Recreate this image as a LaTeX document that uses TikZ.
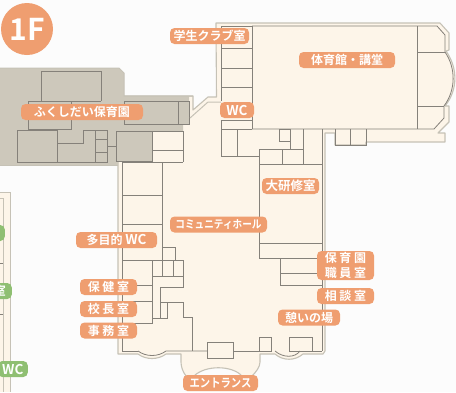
\documentclass[tikz,border=0pt]{standalone}
\usepackage{fontspec}
\setmainfont{Noto Sans CJK JP Bold}
\newfontfamily\narrowfont[FakeStretch=0.86]{Noto Sans CJK JP Bold}
\usepackage{
	xcolor
}
\definecolor{pagebg}{HTML}{FCFCFC}
\definecolor{floorcream}{HTML}{FDF5E9}
\definecolor{wallgray}{HTML}{C6C2B6}
\definecolor{roomline}{HTML}{85817A}
\definecolor{nurserybrown}{HTML}{CDC8BB}
\definecolor{labelorange}{HTML}{EF9E70}
\definecolor{labelgreen}{HTML}{8FBF72}
\newcommand{\bigwc}{{\fontsize{13.5}{13.5}\selectfont WC}}
\tikzset{
	outerwall/.style={draw=wallgray, line width=1.1pt, fill=floorcream, line join=round},
	roomwall/.style={draw=roomline, line width=0.8pt},
	softwall/.style={draw=wallgray, line width=1pt},
	roomlabel/.style={fill=labelorange, text=white, rounded corners=4.5pt, inner sep=0pt, font=\fontsize{12}{13}\selectfont, align=center, minimum height=16pt},
	sidelabel/.style={roomlabel, fill=labelgreen}
}

\begin{document}
\begin{tikzpicture}[x=1pt,y=-1pt]
	\useasboundingbox[fill=pagebg] (0,0) rectangle (456,392);
	% main building
	\draw[outerwall] (216,23) -- (440,23) -- (449,33) -- (449,50) -- (446,51)
		.. controls (458,68) and (458,90) .. (445,106) -- (449,106) -- (449,122) -- (438,133)
		-- (445,133) -- (445,142) -- (366,142) -- (366,145) -- (335,145) -- (335,133) -- (325,133)
		-- (325,351) -- (323,354) -- (303,354) .. controls (295,361) and (283,361) .. (275,354)
		-- (260,354) -- (260,362) .. controls (260,367) and (256,372) .. (252,376) -- (242,376)
		.. controls (232,365) and (205,365) .. (194,376)
		-- (186,376) .. controls (183,372) and (181,367) .. (181,362) -- (181,354)
		-- (166,354) .. controls (158,360) and (146,360) .. (138,354) -- (118,354) -- (118,96)
		-- (193,96) -- (193,110) -- (208,97) -- (216.5,97) -- cycle;
	% nursery block
	\fill[nurserybrown] (0,68) -- (119,68) -- (124,73) -- (124,96) -- (189,96) -- (189,124) -- (183,124)
		-- (183,131) -- (152,131) -- (152,161) -- (118,161) -- (118,165) -- (0,165) -- cycle;
	\draw[softwall] (0,68) -- (119,68) -- (124,73) -- (124,96) -- (193,96);
	\draw[softwall] (0,165) -- (118,165);
	\draw[roomwall] (41.5,101) -- (41.5,71.5) -- (101,71.5) -- (101,101);
	\draw[roomwall] (28,101) rectangle (71,129.5);
	\draw[roomwall] (71,101) -- (101,101);
	\draw[roomwall] (17,130) rectangle (57,162);
	\draw[roomwall] (57,143) -- (83,143) -- (83,130) -- (107,130) -- (107,162) -- (57,162);
	\draw[roomwall] (95,130) -- (95,162);
	\draw[roomwall] (95,139) -- (107,139);
	\draw[roomwall] (95,152) -- (107,152);
	\draw[roomwall] (107,146) -- (116,146);
	\draw[roomwall] (116,131) rectangle (152,161);
	\draw[roomwall] (124.5,101.5) rectangle (189,124);
	\draw[roomwall] (178.5,101.5) -- (178.5,124);
	\draw[roomwall] (152,131) -- (183,131) -- (183,162);
	\draw[roomwall] (152,150) -- (183,150);
	% inner walls, gym side
	\draw[roomwall] (221,101) -- (221,26) -- (252,26);
	\draw[softwall] (190,118) -- (208,102) -- (221,102);
	\draw[roomwall] (252,26) -- (437,26) -- (445,35) -- (445,52) .. controls (456,68) and (456,90) .. (444,106)
		-- (444,118) -- (434,129) -- (252,129);
	\draw[roomwall] (252,26) -- (252,129);
	\draw[roomwall] (417,26) -- (417,129);
	\draw[roomwall] (417,52) -- (445,52);
	\draw[roomwall] (417,106) -- (444,106);
	\draw[roomwall] (221,48) -- (252,48);
	\draw[roomwall] (221,68) -- (252,68);
	\draw[roomwall] (221,87) -- (252,87);
	\draw[roomwall] (221,120) -- (221,156) -- (259,156);
	\draw[roomwall] (221,120) -- (252,120);
	\draw[roomwall] (221,129) -- (252,129);
	\draw[roomwall] (237,129) -- (237,156);
	\draw[roomwall] (279,129) rectangle (290,141);
	\draw[roomwall] (290,129) -- (290,149);
	\draw[roomwall] (303,129) -- (303,164);
	\draw[roomwall] (259,149) -- (303,149);
	\draw[roomwall] (282,149) -- (282,164);
	\draw[roomwall] (259,164) -- (322,164);
	\draw[roomwall] (259,149) -- (259,258);
	\draw[roomwall] (322,129) -- (322,351);
	\draw[roomwall] (335,129) -- (335,145) -- (366,145) -- (366,129);
	\draw[roomwall] (350,129) -- (350,145);
	\draw[roomwall] (259,243) -- (322,243);
	\draw[roomwall] (259,258) -- (322,258);
	\draw[roomwall] (280,258) -- (280,285) -- (322,285);
	\draw[roomwall] (280,273) -- (322,273);
	% inner walls, hall side
	\draw[roomwall] (122,162) -- (122,351) -- (138,351);
	\draw[roomwall] (122,162) -- (183,162);
	\draw[roomwall] (122,195) -- (162,195);
	\draw[roomwall] (162,162) -- (162,276);
	\draw[roomwall] (122,224) -- (162,224);
	\draw[roomwall] (162,247) -- (175,247) -- (175,260);
	\draw[roomwall] (122,260) -- (183,260) -- (183,287) -- (160,287);
	\draw[roomwall] (152,276) -- (183,276);
	\draw[roomwall] (173,260) -- (173,276);
	\draw[roomwall] (152,260) -- (152,323) -- (122,323);
	\draw[roomwall] (122,285) -- (152,285);
	\draw[roomwall] (122,301) -- (152,301);
	\draw[roomwall] (160,287) -- (160,318);
	\draw[roomwall] (152,318) -- (167,318) -- (167,302);
	\draw[roomwall] (160,302) -- (183,302) -- (183,317) -- (192,317) -- (192,351);
	\draw[roomwall] (138,351) .. controls (146,357) and (158,357) .. (166,351) -- (207,351);
	\draw[roomwall] (207,342) rectangle (233,358);
	\draw[roomwall] (233,351) -- (271,351);
	\draw[roomwall] (259,337) rectangle (271,351);
	\draw[roomwall] (289,337) rectangle (312,351);
	\draw[roomwall] (312,351) -- (322,351);
	\draw[roomwall] (275,351) .. controls (283,358) and (295,358) .. (300,351);
	% next wing at the left edge
	\fill[floorcream] (0,192) rectangle (10.5,392);
	\draw[softwall] (0,192) -- (10.5,192) -- (10.5,392);
	\draw[softwall] (0,198) -- (3,198) -- (3,392);
	\draw[roomwall] (0,263) -- (3,263);
	\draw[roomwall] (0,314) -- (3,314);
	% labels
	\fill[labelorange] (27,29) circle (26);
	\node[text=white, font=\fontsize{30}{30}\selectfont] (floorno) at (27,29) {1F};
	\node[roomlabel, minimum width=79pt] (club) at (209.5,36) {学生クラブ室};
	\node[roomlabel, minimum width=96pt] (gym) at (347,60) {体育館・講堂};
	\node[roomlabel, minimum width=34pt] (wcupper) at (237,110) {\bigwc};
	\node[roomlabel, minimum width=122pt] (nursery) at (82,112) {ふくしだい保育園};
	\node[roomlabel, minimum width=57pt, font=\fontsize{12.5}{13}\selectfont] (training) at (290.5,186) {大研修室};
	\node[roomlabel, minimum width=97pt, font=\narrowfont\fontsize{11.2}{12}\selectfont] (hall) at (218.5,224.5) {コミュニティホール};
	\node[roomlabel, minimum width=81pt] (multi) at (116.5,240) {多目的 \bigwc};
	\node[roomlabel, minimum width=57pt] (health) at (108.5,287) {保 健 室};
	\node[roomlabel, minimum width=57pt] (principal) at (108.5,309) {校 長 室};
	\node[roomlabel, minimum width=57pt] (office) at (108.5,330.5) {事 務 室};
	\node[roomlabel, minimum width=57pt, minimum height=29pt, font=\fontsize{12}{14.5}\selectfont] (staff) at (345.5,265.5) {保 育 園\\職 員 室};
	\node[roomlabel, minimum width=57pt] (consult) at (345.5,296) {相 談 室};
	\node[roomlabel, minimum width=62pt] (rest) at (309,317.5) {憩いの場};
	\node[roomlabel, minimum width=75pt, font=\narrowfont\fontsize{12}{13}\selectfont] (entrance) at (220.5,383) {エントランス};
	\node[sidelabel, minimum width=10pt, anchor=east] (sidea) at (5,233) {};
	\node[sidelabel, minimum width=24pt, anchor=east] (sideb) at (12,291) {室};
	\node[sidelabel, minimum width=30pt, anchor=east] (sidec) at (28,369) {\bigwc};
\end{tikzpicture}
\end{document}
